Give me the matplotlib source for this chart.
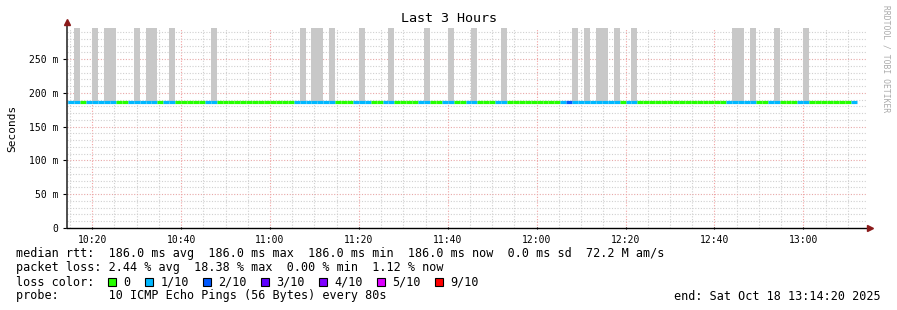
import matplotlib
matplotlib.use('Agg')
import numpy as np
from matplotlib import pyplot as plt
from matplotlib.patches import Rectangle

# vars
title = 'Last 3 Hours'
ylabel = 'Seconds'
median_rtt = 0.186          # seconds, flat for the whole window
step_s = 80                 # seconds per rrd sample
first_bin = '10:13:20'      # start of the first sample bin
view_start = '10:14:20'
view_end = '13:14:20'

loss = [1, 1, 1, 0, 1, 1, 1, 1, 1, 0,
        0, 1, 1, 1, 1, 1, 0, 1, 1, 0,
        0, 0, 0, 0, 1, 1, 0, 0, 0, 0,
        0, 0, 0, 0, 0, 0, 0, 0, 0, 1,
        1, 1, 1, 1, 1, 1, 0, 0, 0, 1,
        1, 1, 0, 0, 1, 1, 0, 0, 0, 0,
        1, 1, 0, 0, 1, 1, 0, 0, 1, 1,
        0, 0, 0, 1, 1, 0, 0, 0, 0, 0,
        0, 0, 0, 0, 1, 2, 1, 1, 1, 1,
        1, 1, 1, 1, 0, 1, 1, 0, 0, 0,
        0, 0, 0, 0, 0, 0, 0, 0, 0, 0,
        0, 0, 1, 1, 1, 1, 1, 0, 0, 1,
        1, 0, 0, 0, 1, 1, 0, 0, 0, 0,
        0, 0, 0, 1]

# bins where the smoke (rtt spread) shoots past the top of the graph
smoke = [0, 0, 1, 0, 0, 1, 0, 1, 1, 0,
         0, 0, 1, 0, 1, 1, 0, 0, 1, 0,
         0, 0, 0, 0, 0, 1, 0, 0, 0, 0,
         0, 0, 0, 0, 0, 0, 0, 0, 0, 0,
         1, 0, 1, 1, 0, 1, 0, 0, 0, 0,
         1, 0, 0, 0, 0, 1, 0, 0, 0, 0,
         0, 1, 0, 0, 0, 1, 0, 0, 0, 1,
         0, 0, 0, 0, 1, 0, 0, 0, 0, 0,
         0, 0, 0, 0, 0, 0, 1, 0, 1, 0,
         1, 1, 0, 1, 0, 0, 1, 0, 0, 0,
         0, 0, 0, 0, 0, 0, 0, 0, 0, 0,
         0, 0, 0, 1, 1, 0, 1, 0, 0, 0,
         1, 0, 0, 0, 0, 1, 0, 0, 0, 0,
         0, 0, 0, 0]

loss_colors = ['#26ff00', '#00b8ff', '#0059ff', '#5e00ff', '#7e00ff', '#dd00ff', '#ff0000']
loss_labels = ['0', '1/10', '2/10', '3/10', '4/10', '5/10', '9/10']

xtick_labels = ['10:20', '10:40', '11:00', '11:20', '11:40', '12:00', '12:20', '12:40', '13:00']
ytick_vals = [0, 0.05, 0.10, 0.15, 0.20, 0.25]
ytick_labels = ['0', '50 m', '100 m', '150 m', '200 m', '250 m']
y_top = 0.296

legend_rtt = 'median rtt:  186.0 ms avg  186.0 ms max  186.0 ms min  186.0 ms now  0.0 ms sd  72.2 M am/s'
legend_loss = 'packet loss: 2.44 % avg  18.38 % max  0.00 % min  1.12 % now'
legend_probe = 'probe:       10 ICMP Echo Pings (56 Bytes) every 80s'
legend_end = 'end: Sat Oct 18 13:14:20 2025'
watermark = 'RRDTOOL / TOBI OETIKER'

MONO = 'DejaVu Sans Mono'
W, H = 897, 310


def to_min(s):
    """'hh:mm[:ss]' -> minutes after midnight"""
    parts = [int(p) for p in s.split(':')]
    while len(parts) < 3:
        parts.append(0)
    return parts[0] * 60 + parts[1] + parts[2] / 60.


def ftext(fig, x, y, s, **kw):
    # place text by pixel position in the figure (y from the top)
    kw.setdefault('family', MONO)
    kw.setdefault('fontsize', 8.45)
    kw.setdefault('va', 'center')
    fig.text(x / W, 1 - y / H, s, **kw)


t0 = to_min(view_start)
t1 = to_min(view_end)
step_min = step_s / 60.
bins = to_min(first_bin) + np.arange(len(loss)) * step_min

fig = plt.figure(figsize=(W / 100, H / 100), dpi=100)
ax = fig.add_axes([67 / W, 1 - 228 / H, 800 / W, 200 / H])
ax.set_xlim(t0, t1)
ax.set_ylim(0, y_top)

# grid: minor every 5 min / 10 ms, major every 20 min / 50 ms
for m in np.arange(np.ceil(t0 / 5) * 5, t1, 5):
    major = int(round(m)) % 20 == 0
    ax.axvline(m, color='#f2a0a0' if major else '#d0d0d0', lw=0.8, ls=(0, (1, 1.5)), zorder=0)
for v in np.arange(0.01, y_top, 0.01):
    major = int(round(v * 100)) % 5 == 0
    ax.axhline(v, color='#e8a8a8' if major else '#d0d0d0', lw=0.8, ls=(0, (1, 1.5)), zorder=0)

# smoke
sm = np.array(smoke, dtype=bool)
ax.bar(bins[sm], y_top - median_rtt, bottom=median_rtt, width=step_min, align='edge',
       color='#c8c8c8', lw=0, zorder=1)

# median line coloured by loss
for t, l in zip(bins, loss):
    ax.hlines(median_rtt, max(t, t0), t + step_min, colors=loss_colors[l], lw=2.3,
              capstyle='butt', zorder=2)

# axes
for s in ['top', 'right', 'left', 'bottom']:
    ax.spines[s].set_visible(False)
ax.plot([0, 0], [0, 1.03], transform=ax.transAxes, color='#303030', lw=1.2, clip_on=False, zorder=3)
ax.plot([0, 1.004], [0, 0], transform=ax.transAxes, color='black', lw=1.0, clip_on=False, zorder=3)
ax.plot(0, 1.03, marker='^', ms=4.5, color='#8b1a1a', transform=ax.transAxes, clip_on=False, zorder=4)
ax.plot(1.004, 0, marker='>', ms=4.5, color='#8b1a1a', transform=ax.transAxes, clip_on=False, zorder=4)

ax.set_xticks([to_min(s) for s in xtick_labels])
ax.set_xticklabels(xtick_labels, family=MONO, fontsize=7)
ax.set_yticks(ytick_vals)
ax.set_yticklabels(ytick_labels, family=MONO, fontsize=7)
ax.tick_params(axis='y', length=3, width=0.8, pad=3, direction='out')
ax.tick_params(axis='x', length=2, width=0.8, pad=4, direction='inout')
ax.set_ylabel(ylabel, family=MONO, fontsize=8)
ax.yaxis.set_label_coords(-0.062, 0.5)

# title and watermark
ftext(fig, W / 2, 19, title, ha='center', fontsize=9.6)
ftext(fig, 886, 59, watermark, ha='center', rotation=270, fontsize=5.8, color='#aaaaaa')

# legend block
ftext(fig, 16, 254, legend_rtt)
ftext(fig, 16, 268, legend_loss)
ftext(fig, 16, 282, 'loss color:')
x = 108
for c, lab in zip(loss_colors, loss_labels):
    fig.patches.append(Rectangle((x / W, 1 - 285.5 / H), 8 / W, 8 / H, transform=fig.transFigure,
                                 facecolor=c, edgecolor='black', lw=0.8))
    ftext(fig, x + 15.5, 282, lab)
    x = x + 15.5 + (len(lab) + 2) * 7.0 + 0.5
ftext(fig, 16, 296, legend_probe)
ftext(fig, 881, 296, legend_end, ha='right')

fig.savefig('out.png', dpi=100, facecolor='white')
